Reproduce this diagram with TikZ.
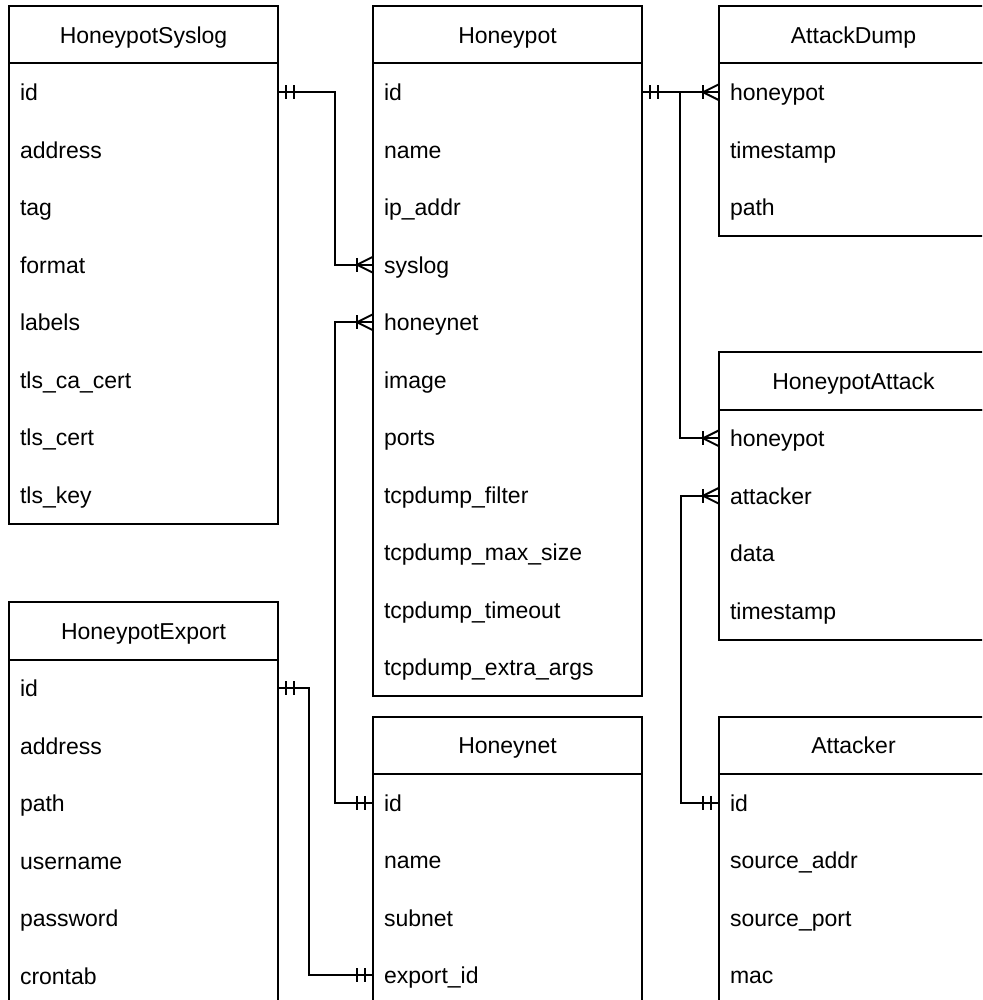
\documentclass[tikz,border=0pt]{standalone}
\usepackage{fontspec}
\setmainfont{Liberation Sans}
\usetikzlibrary{calc}

\newcommand\erfont{\fontsize{23}{27}\selectfont}

\tikzset{
  ent/.style={draw=black, line width=2pt},
  hdr/.style={ent, anchor=north west, outer sep=0pt, inner sep=0pt,
    minimum width=269pt, minimum height=57.5pt, font=\erfont,
    text height=17pt, text depth=0pt},
  fld/.style={anchor=north west, outer sep=0pt, inner xsep=11pt, inner ysep=0pt,
    text width=247pt, minimum height=57.5pt, align=left, font=\erfont,
    text height=17pt, text depth=0pt},
  rel/.style={draw=black, line width=2pt},
}

% entity: name, x, y, title, fields
\newcommand\erentity[5]{%
  \node[hdr] (#1) at (#2,#3) {#4};
  \foreach \f [count=\k] in {#5} {
    \node[fld] (#1-\k) at ($(#1.south west)+(0,{(\k-1)*57.5})$) {\f};
    \xdef\erlast{\k}
  }
  \draw[ent] (#1.south west) rectangle (#1-\erlast.south east);
}

% mandatory-one mark: anchor, side (+1 right of entity, -1 left)
\newcommand\mandone[2]{%
  \draw[rel] ($(#1)+({#2*8},-7)$) -- ++(0,14)
             ($(#1)+({#2*16},-7)$) -- ++(0,14);
}
% one-or-many mark: anchor, side
\newcommand\onemany[2]{%
  \draw[rel] ($(#1)+({#2*16},-7)$) -- ++(0,14);
  \draw[rel] ($(#1)+(0,-8)$) -- ($(#1)+({#2*16},0)$) -- ($(#1)+(0,8)$);
}

\begin{document}
\begin{tikzpicture}[x=1pt, y=-1pt]
  \useasboundingbox (0,0) rectangle (982,1000);
  \clip (0,0) rectangle (982,1000);

  \erentity{sys}{9}{6}{HoneypotSyslog}{id,address,tag,format,labels,tls\_ca\_cert,tls\_cert,tls\_key}
  \erentity{hp}{373}{6}{Honeypot}{id,name,ip\_addr,syslog,honeynet,image,ports,tcpdump\_filter,tcpdump\_max\_size,tcpdump\_timeout,tcpdump\_extra\_args}
  \erentity{ad}{719}{6}{AttackDump}{honeypot,timestamp,path}
  \erentity{ha}{719}{352}{HoneypotAttack}{honeypot,attacker,data,timestamp}
  \erentity{ex}{9}{602}{HoneypotExport}{id,address,path,username,password,crontab}
  \erentity{hn}{373}{716.5}{Honeynet}{id,name,subnet,export\_id}
  \erentity{at}{719}{716.5}{Attacker}{id,source\_addr,source\_port,mac}

  % syslog -> honeypot
  \draw[rel] (sys-1.east) -- ++(57,0) |- (hp-4.west);
  \mandone{sys-1.east}{1}
  \onemany{hp-4.west}{-1}

  % honeynet -> honeypot
  \draw[rel] (hp-5.west) -- ++(-38,0) |- (hn-1.west);
  \onemany{hp-5.west}{-1}
  \mandone{hn-1.west}{-1}

  % export -> honeynet
  \draw[rel] (ex-1.east) -- ++(31,0) |- (hn-4.west);
  \mandone{ex-1.east}{1}
  \mandone{hn-4.west}{-1}

  % honeypot -> dumps and attacks
  \draw[rel] (hp-1.east) -- (ad-1.west);
  \draw[rel] ($(hp-1.east)+(38,0)$) |- (ha-1.west);
  \mandone{hp-1.east}{1}
  \onemany{ad-1.west}{-1}
  \onemany{ha-1.west}{-1}

  % attacker -> attacks
  \draw[rel] (ha-2.west) -- ++(-38,0) |- (at-1.west);
  \onemany{ha-2.west}{-1}
  \mandone{at-1.west}{-1}
\end{tikzpicture}
\end{document}
